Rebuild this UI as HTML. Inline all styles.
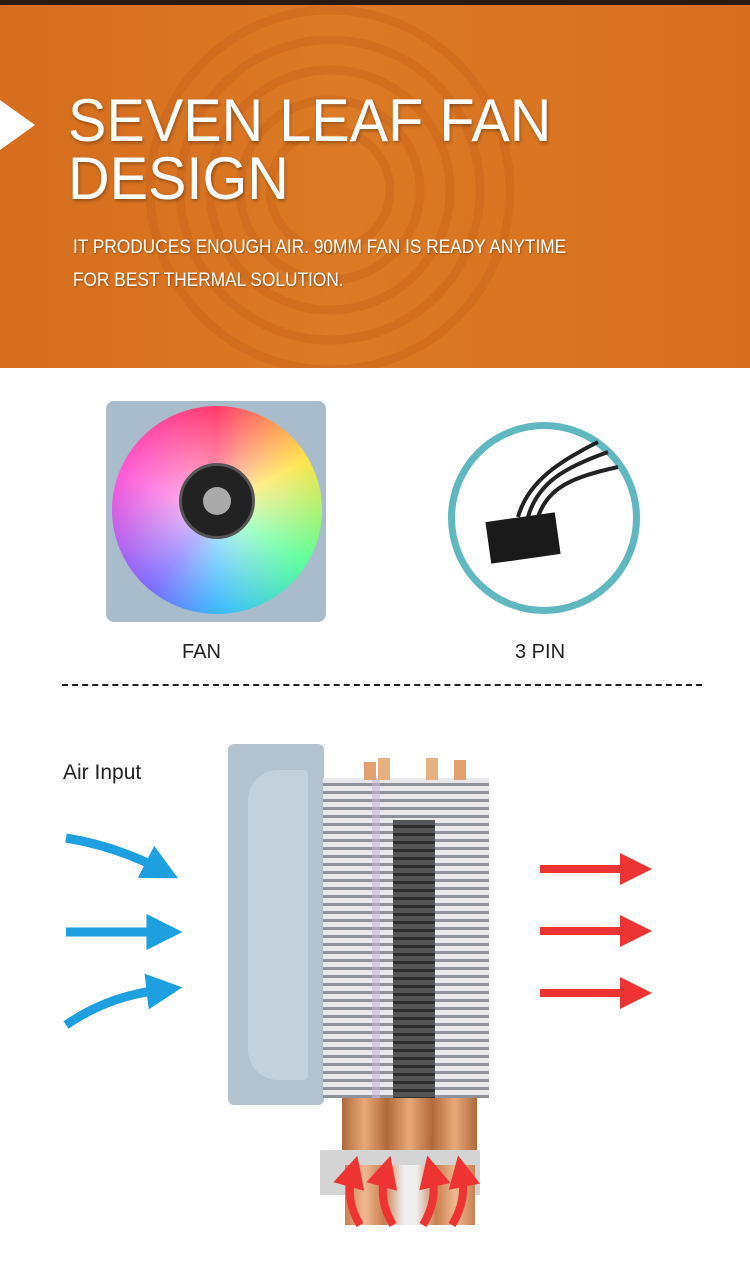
<!DOCTYPE html>
<html><head><meta charset="utf-8"><style>
*{margin:0;padding:0;box-sizing:border-box}
body{width:750px;height:1282px;position:relative;overflow:hidden;background:#fff;font-family:"Liberation Sans",sans-serif}
.abs{position:absolute}
</style></head><body>
<div class="abs" style="left:0;top:0;width:750px;height:368px;background:linear-gradient(90deg,#d56d1d,#dc7a25 45%,#d66f1c);"></div>
<div class="abs" style="left:0;top:0;width:750px;height:5px;background:#2a1a10"></div>
<svg class="abs" style="left:0;top:0" width="750" height="368">
<g fill="none" stroke="#c8631a" stroke-width="9" opacity="0.45">
<circle cx="330" cy="190" r="60"/><circle cx="330" cy="190" r="90"/><circle cx="330" cy="190" r="120"/><circle cx="330" cy="190" r="150"/><circle cx="330" cy="190" r="180"/>
</g>
<polygon points="0,100 35,125 0,150" fill="#fff"/>
</svg>
<div class="abs" style="left:68px;top:92px;color:#fff;font-size:60px;line-height:58px;white-space:nowrap;transform:scaleX(0.96);transform-origin:0 0;text-shadow:1px 2px 3px rgba(0,0,0,.3)">SEVEN LEAF FAN<br>DESIGN</div>
<div class="abs" style="left:73px;top:231px;color:#fff;font-size:19px;line-height:33px;white-space:nowrap;transform:scaleX(0.91);transform-origin:0 0;text-shadow:1px 1px 2px rgba(0,0,0,.3)">IT PRODUCES ENOUGH AIR. 90MM FAN IS READY ANYTIME<br>FOR BEST THERMAL SOLUTION.</div>

<!-- fan -->
<div class="abs" style="left:106px;top:401px;width:220px;height:221px;background:#a9bccb;border-radius:8px"></div>
<div class="abs" style="left:112px;top:406px;width:210px;height:208px;border-radius:50%;background:conic-gradient(#ff3a6a,#ffe44a 60deg,#5cff9a 120deg,#3ab8ff 180deg,#7a6cff 220deg,#ff5ad8 290deg,#ff3a6a)"></div>
<div class="abs" style="left:112px;top:406px;width:210px;height:208px;border-radius:50%;background:radial-gradient(circle,rgba(255,255,255,.5) 20%,rgba(255,255,255,0) 70%)"></div>
<div class="abs" style="left:179px;top:463px;width:76px;height:76px;border-radius:50%;background:#222;border:3px solid #555"></div>
<div class="abs" style="left:203px;top:487px;width:28px;height:28px;border-radius:50%;background:#aaa"></div>
<div class="abs" style="left:182px;top:641px;font-size:20px;color:#222">FAN</div>

<!-- 3 pin -->
<div class="abs" style="left:448px;top:422px;width:192px;height:192px;border-radius:50%;border:7px solid #5fb7bf;background:#fff"></div>
<svg class="abs" style="left:448px;top:422px" width="192" height="192">
<path d="M70 95 C80 60 110 40 150 20" stroke="#222" stroke-width="4" fill="none"/>
<path d="M80 95 C90 60 118 45 160 30" stroke="#222" stroke-width="4" fill="none"/>
<path d="M90 95 C100 65 125 55 170 45" stroke="#222" stroke-width="4" fill="none"/>
<rect x="40" y="95" width="70" height="42" fill="#1a1a1a" transform="rotate(-8 75 116)"/>
</svg>
<div class="abs" style="left:515px;top:641px;font-size:20px;color:#222">3 PIN</div>

<div class="abs" style="left:62px;top:684px;width:640px;border-top:2px dashed #222"></div>

<div class="abs" style="left:63px;top:761px;font-size:21px;color:#222">Air Input</div>

<!-- cooler -->
<div class="abs" style="left:228px;top:744px;width:96px;height:361px;background:#b2c3cf;border-radius:6px"></div>
<div class="abs" style="left:248px;top:770px;width:60px;height:310px;background:#c2d1dc;border-radius:30px 4px 4px 30px"></div>
<div class="abs" style="left:323px;top:778px;width:166px;height:320px;background:repeating-linear-gradient(180deg,#e8e8ea 0,#e8e8ea 5px,#8f9399 5px,#8f9399 8px)"></div>
<div class="abs" style="left:393px;top:820px;width:42px;height:278px;background:repeating-linear-gradient(180deg,#555 0,#555 5px,#2e2e30 5px,#2e2e30 8px)"></div>
<div class="abs" style="left:372px;top:778px;width:8px;height:320px;background:#c9b8e0;opacity:.6"></div>
<div class="abs" style="left:342px;top:1098px;width:135px;height:55px;background:linear-gradient(90deg,#b06a3c,#e8a878,#b06a3c,#e8a878,#b06a3c,#e8a878,#b06a3c)"></div>
<div class="abs" style="left:320px;top:1150px;width:160px;height:45px;background:#d4d4d4"></div>
<div class="abs" style="left:345px;top:1165px;width:130px;height:60px;background:linear-gradient(90deg,#c98050,#f0b890,#c98050,#eee 45%,#eee 55%,#c98050,#f0b890,#c98050)"></div>
<svg class="abs" style="left:360px;top:756px" width="120" height="24">
<rect x="4" y="6" width="12" height="18" fill="#e0a070"/><rect x="18" y="2" width="12" height="22" fill="#e8b080"/>
<rect x="66" y="2" width="12" height="22" fill="#e8b080"/><rect x="94" y="4" width="12" height="20" fill="#e0a070"/>
</svg>

<svg class="abs" style="left:0;top:0" width="750" height="1282">
<defs>
<marker id="b" markerWidth="4" markerHeight="4" refX="1.5" refY="2" orient="auto"><path d="M0,0 L4,2 L0,4z" fill="#1e9fe0"/></marker>
<marker id="r" markerWidth="4" markerHeight="4" refX="1.5" refY="2" orient="auto"><path d="M0,0 L4,2 L0,4z" fill="#ee3333"/></marker>
</defs>
<g stroke="#1e9fe0" stroke-width="9" fill="none">
<path d="M66 838 Q115 846 158 868" marker-end="url(#b)"/>
<path d="M66 932 L160 932" marker-end="url(#b)"/>
<path d="M66 1025 Q108 996 160 990" marker-end="url(#b)"/>
</g>
<g stroke="#ee3333" stroke-width="8" fill="none">
<path d="M540 869 L632 869" marker-end="url(#r)"/>
<path d="M540 931 L632 931" marker-end="url(#r)"/>
<path d="M540 993 L632 993" marker-end="url(#r)"/>
<path d="M360 1225 Q345 1200 352 1175" marker-end="url(#r)"/>
<path d="M393 1225 Q378 1200 385 1175" marker-end="url(#r)"/>
<path d="M423 1225 Q438 1200 432 1175" marker-end="url(#r)"/>
<path d="M452 1225 Q467 1200 462 1175" marker-end="url(#r)"/>
</g>
</svg>
</body></html>
